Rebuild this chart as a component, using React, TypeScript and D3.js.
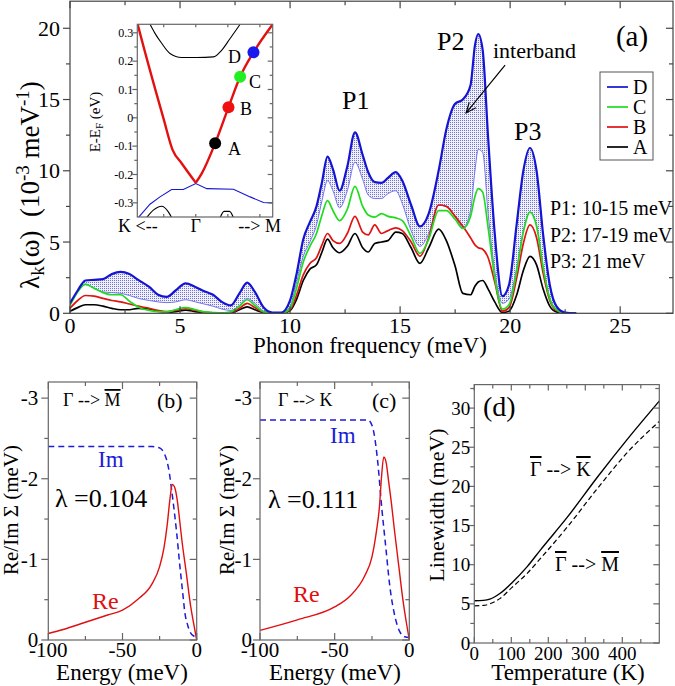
import React from 'react';
import * as d3 from 'd3';

const FONT = '"Liberation Serif", "DejaVu Serif", "Times New Roman", serif';

// (a) coupling spectra, lambda_k(omega) in 1e-3 meV^-1
const freq = [0, 0.35, 0.7, 1.1, 1.5, 1.9, 2.3, 2.7, 3.1, 3.6, 4.0, 4.4, 4.8, 5.25, 5.7, 6.1, 6.5, 6.9, 7.3, 7.7, 8.05, 8.4, 8.8, 9.2, 9.6, 10.0, 10.3, 10.6, 10.9, 11.2, 11.45, 11.7, 11.95, 12.25, 12.6, 12.95, 13.3, 13.55, 13.85, 14.15, 14.45, 14.8, 15.1, 15.5, 15.9, 16.3, 16.75, 17.1, 17.5, 17.85, 18.2, 18.4, 18.55, 18.75, 19.0, 19.3, 19.65, 19.95, 20.3, 20.6, 20.9, 21.2, 21.5, 21.8, 22.1, 22.5, 23];
const lamD = [0.7, 1.6, 2.3, 2.35, 2.4, 2.75, 2.9, 2.75, 2.35, 1.85, 1.3, 1.15, 1.6, 2.1, 1.85, 1.55, 1.3, 0.8, 0.55, 1.4, 2.15, 1.5, 0.4, 0.05, 0.05, 0.9, 2.8, 5.2, 6.4, 7.5, 9.2, 11.0, 10.1, 8.6, 10.3, 12.7, 11.1, 9.9, 9.2, 9.15, 9.5, 9.9, 9.3, 7.6, 6.1, 7.0, 10.0, 12.9, 14.7, 15.0, 16.0, 18.8, 19.6, 18.5, 12.3, 5.6, 1.2, 2.0, 6.3, 10.0, 11.6, 10.0, 5.5, 2.0, 0.5, 0.05, 0];
const lamIntra = [0.65, 1.5, 2.0, 1.75, 1.5, 1.45, 1.4, 1.25, 1.05, 0.9, 0.8, 0.75, 0.8, 0.95, 0.8, 0.65, 0.5, 0.3, 0.2, 0.55, 1.05, 0.7, 0.15, 0.02, 0.02, 0.5, 2.2, 4.0, 5.0, 6.2, 7.9, 9.3, 8.6, 7.4, 8.6, 10.6, 9.4, 8.3, 8.05, 8.05, 8.4, 8.6, 7.7, 5.8, 4.7, 5.6, 7.6, 7.5, 6.8, 6.0, 7.2, 10.0, 11.5, 11.3, 7.0, 3.0, 0.7, 1.0, 3.2, 5.8, 7.1, 6.2, 3.3, 1.1, 0.3, 0.03, 0];
const lamC = [0.55, 1.5, 2.05, 1.75, 1.45, 1.3, 1.3, 0.85, 0.45, 0.2, 0.12, 0.1, 0.25, 0.4, 0.25, 0.1, 0.05, 0.02, 0.1, 0.5, 0.95, 0.55, 0.1, 0.01, 0.01, 0.35, 1.8, 3.6, 4.7, 5.6, 6.9, 7.9, 7.2, 6.5, 7.3, 8.9, 7.5, 6.9, 6.75, 7.0, 6.8, 6.7, 6.5, 5.4, 4.2, 5.2, 7.2, 7.2, 6.6, 5.95, 6.8, 8.2, 8.75, 8.5, 6.0, 2.5, 0.3, 0.6, 3.0, 5.7, 7.1, 6.1, 3.2, 1.0, 0.25, 0.02, 0];
const lamB = [0.35, 0.9, 1.25, 1.2, 1.05, 0.9, 0.8, 0.65, 0.5, 0.35, 0.2, 0.12, 0.2, 0.32, 0.2, 0.08, 0.03, 0.01, 0.05, 0.35, 0.7, 0.4, 0.08, 0.01, 0.01, 0.25, 1.3, 2.7, 3.5, 3.9, 4.8, 5.6, 5.1, 4.9, 5.6, 6.8, 5.7, 5.5, 6.2, 5.6, 5.8, 6.0, 5.8, 5.0, 4.0, 5.3, 7.6, 7.5, 6.8, 6.1, 5.3, 4.8, 4.6, 4.5, 3.9, 2.2, 0.15, 0.4, 2.5, 4.9, 6.2, 5.3, 2.8, 0.9, 0.2, 0.02, 0];
const lamA = [0.15, 0.4, 0.6, 0.6, 0.5, 0.35, 0.25, 0.25, 0.35, 0.3, 0.15, 0.08, 0.12, 0.22, 0.12, 0.04, 0.01, 0, 0.03, 0.25, 0.45, 0.25, 0.05, 0, 0, 0.2, 1.0, 2.3, 3.1, 3.4, 4.3, 5.2, 4.6, 4.25, 4.7, 5.6, 4.6, 4.3, 4.9, 5.0, 5.1, 5.7, 5.6, 4.6, 3.5, 4.6, 5.9, 5.1, 3.3, 1.4, 1.3, 1.9, 2.2, 2.3, 1.7, 0.8, 0.05, 0.15, 1.3, 3.0, 4.0, 3.4, 1.7, 0.5, 0.1, 0.01, 0];
const legendLabels = ['D', 'C', 'B', 'A'];
const legendColors = ['#1414d2', '#1fdc1f', '#e01212', '#000'];
const peakNotes = ['P1: 10-15 meV', 'P2: 17-19 meV', 'P3: 21 meV'];

// inset band structure
const redLeftK = [-0.47, -0.453, -0.253, -0.18, -0.109, 0];
const redLeftE = [0.36, 0.33, 0, -0.114, -0.161, -0.229];
const redRightK = [0, 0.047, 0.151, 0.255, 0.346, 0.45, 0.6];
const redRightE = [-0.229, -0.196, -0.09, 0.037, 0.145, 0.231, 0.33];
const condK = [-0.357, -0.318, -0.266, -0.201, -0.11, 0.008, 0.137, 0.203, 0.268, 0.346];
const condE = [0.33, 0.298, 0.263, 0.227, 0.213, 0.213, 0.215, 0.239, 0.28, 0.33];
const blueK = [-0.448, -0.357, -0.279, -0.188, -0.097, 0, 0.086, 0.294, 0.424, 0.528, 0.6];
const blueE = [-0.352, -0.305, -0.279, -0.253, -0.253, -0.232, -0.25, -0.252, -0.279, -0.299, -0.3];
const lowK1 = [-0.383, -0.331, -0.266, -0.214, -0.188];
const lowE1 = [-0.352, -0.326, -0.312, -0.332, -0.352];
const lowK2 = [0.19, 0.221, 0.263, 0.294];
const lowE2 = [-0.352, -0.33, -0.33, -0.352];
const dotK = [0.151, 0.255, 0.346, 0.45];
const dotE = [-0.09, 0.037, 0.145, 0.231];
const dotLabels = ['A', 'B', 'C', 'D'];
const dotColors = ['#000', '#f01010', '#22ee22', '#1a1af0'];

// (b), (c) self energy
const bImE = [-100, -30, -27, -24.7, -22, -20.2, -18.5, -16.9, -15, -13.5, -11.3, -9.5, -7.9, -6, -4.5, -2, 0];
const bIm = [-2.4, -2.4, -2.39, -2.38, -2.32, -2.23, -2.08, -1.86, -1.58, -1.33, -0.91, -0.6, -0.33, -0.18, -0.1, -0.05, -0.04];
const bReE = [-100, -90, -75, -60, -50, -40, -30, -25, -22, -20, -18, -16.5, -15, -13, -12, -10, -7, -4, -2, 0];
const bRe = [-0.08, -0.13, -0.22, -0.31, -0.37, -0.5, -0.7, -0.91, -1.15, -1.41, -1.75, -1.93, -1.9, -1.72, -1.57, -1.24, -0.83, -0.41, -0.2, 0];
const cImE = [-100, -28, -26.3, -23.6, -21.1, -18.5, -15.8, -13, -9.6, -6.3, -3, 0];
const cIm = [-2.73, -2.73, -2.71, -2.56, -2.2, -1.65, -1.16, -0.66, -0.29, -0.1, -0.04, -0.03];
const cReE = [-100, -75, -50, -40, -30, -25, -22, -20, -18.5, -17.1, -15.5, -14, -12, -10, -7, -4, -2, 0];
const cRe = [-0.12, -0.25, -0.41, -0.54, -0.79, -1.03, -1.35, -1.65, -2.05, -2.27, -2.2, -1.99, -1.7, -1.37, -0.91, -0.46, -0.22, 0];

// (d) linewidth vs temperature
const temps = [0, 25, 42, 70, 102, 143, 179, 252, 333, 415, 500];
const lwK = [5.4, 5.45, 5.6, 6.35, 7.7, 9.75, 11.9, 16.1, 21.2, 26.1, 30.9];
const lwM = [4.75, 4.8, 5.0, 5.7, 7.1, 8.9, 10.8, 14.85, 19.75, 24.4, 28.3];

const range = (a: number, b: number, s: number) => d3.range(a, b + s / 2, s);

function Frame({ x, y, xMajor, xMinor, yMajor, yMinor, fs, stroke = '#555', big = 7, small = 4, xLabelY, yLabelGap = 3 }: any) {
  const [x0, x1] = x.range();
  const [yb, yt] = y.range();
  return (
    <g>
      <g stroke={stroke} strokeWidth={1.2}>
        {xMajor.concat(xMinor).map((v: number, i: number) => {
          const L = i < xMajor.length ? big : small;
          return (
            <g key={'x' + i}>
              <line x1={x(v)} x2={x(v)} y1={yb} y2={yb - L} />
              <line x1={x(v)} x2={x(v)} y1={yt} y2={yt + L} />
            </g>
          );
        })}
        {yMajor.concat(yMinor).map((v: number, i: number) => {
          const L = i < yMajor.length ? big : small;
          return (
            <g key={'y' + i}>
              <line x1={x0} x2={x0 - L} y1={y(v)} y2={y(v)} />
              <line x1={x1} x2={x1 - L} y1={y(v)} y2={y(v)} />
            </g>
          );
        })}
        <rect x={x0} y={yt} width={x1 - x0} height={yb - yt} fill="none" />
      </g>
      {xMajor.map((v: number) => (
        <text key={'xl' + v} x={x(v)} y={xLabelY} textAnchor="middle" fontSize={fs}>{String(v)}</text>
      ))}
      {yMajor.map((v: number) => (
        <text key={'yl' + v} x={x0 - big - yLabelGap} y={y(v)} dy="0.35em" textAnchor="end" fontSize={fs}>{String(v)}</text>
      ))}
    </g>
  );
}

function linePath(xs: number[], ys: number[], sx: any, sy: any, curve: any = d3.curveMonotoneX) {
  const pts = xs.map((v, i) => [v, ys[i]] as [number, number]);
  return d3.line().x(d => sx(d[0])).y(d => sy(d[1])).curve(curve)(pts) || '';
}

const over = { textDecoration: 'overline' };

export default function App() {
  // panel (a)
  const xa = d3.scaleLinear().domain([0, 27.4]).range([70, 673]);
  const ya = d3.scaleLinear().domain([0, 21.9]).range([313.3, 1.2]);
  const idx = d3.range(freq.length);
  const hatch = d3.area<number>()
    .x(i => xa(freq[i]))
    .y0(i => ya(lamIntra[i]))
    .y1(i => ya(lamD[i]))
    .curve(d3.curveMonotoneX)(idx) || '';
  const series = [lamD, lamC, lamB, lamA];

  // inset
  const xi = d3.scaleLinear().domain([-0.456, 0.6]).range([137.3, 272.7]);
  const yi = d3.scaleLinear().domain([-0.35, 0.33]).range([217, 24.3]);

  // (b), (c)
  const yb = d3.scaleLinear().domain([0, -3.2]).range([640, 382]);
  const xb = d3.scaleLinear().domain([-100, 0]).range([48.3, 196.7]);
  const xc = d3.scaleLinear().domain([-100, 0]).range([260, 409.3]);

  // (d)
  const xd = d3.scaleLinear().domain([0, 500]).range([474.3, 659.3]);
  const yd = d3.scaleLinear().domain([0, 33]).range([643, 384.6]);

  const arrowFrom = [xa(19.77), ya(17.42)];
  const arrowTo = [xa(18.0), ya(14.06)];
  const ang = Math.atan2(arrowTo[1] - arrowFrom[1], arrowTo[0] - arrowFrom[0]);
  const head = (s: number) => [arrowTo[0] - 11 * Math.cos(ang + s * 0.4), arrowTo[1] - 11 * Math.sin(ang + s * 0.4)];
  const h1 = head(1), h2 = head(-1);

  return (
    <svg width={675} height={686} style={{ display: 'block', position: 'absolute', left: 0, top: 0, fontFamily: FONT }}>
      <defs>
        <pattern id="dots" width="2" height="2" patternUnits="userSpaceOnUse">
          <rect width="2" height="2" fill="#f0f0fb" />
          <rect width="1" height="1" fill="#7272d4" />
        </pattern>
        <clipPath id="clipA"><rect x={70} y={1.2} width={603} height={312.1} /></clipPath>
        <clipPath id="clipI"><rect x={137.3} y={24.3} width={135.4} height={192.7} /></clipPath>
      </defs>
      <rect width={675} height={686} fill="#fff" />

      {/* (a) */}
      <g clipPath="url(#clipA)">
        <path d={hatch} fill="url(#dots)" stroke="none" />
        <path d={linePath(freq, lamIntra, xa, ya)} fill="none" stroke="#7474e8" strokeWidth={1} />
        {series.slice().reverse().map((s, i) => (
          <path key={i} d={linePath(freq, s, xa, ya)} fill="none" stroke={legendColors[3 - i]} strokeWidth={i === 3 ? 2.2 : 1.7} />
        ))}
      </g>
      <Frame x={xa} y={ya} xMajor={range(0, 25, 5)} xMinor={[2.5, 7.5, 12.5, 17.5, 22.5]} yMajor={range(0, 20, 5)} yMinor={[2.5, 7.5, 12.5, 17.5]} fs={22} xLabelY={333} stroke="#444" />
      <text x={370} y={353} textAnchor="middle" fontSize={23}>Phonon frequency (meV)</text>
      <text transform="translate(39,185) rotate(-90)" textAnchor="middle" fontSize={27}>
        λ<tspan dy={5} fontSize={19}>k</tspan><tspan dy={-5}>(ω)</tspan><tspan>{'\u00a0\u00a0(10'}</tspan><tspan dy={-10} fontSize={19}>-3</tspan><tspan dy={10}>{'\u00a0meV'}</tspan><tspan dy={-10} fontSize={19}>-1</tspan><tspan dy={10}>)</tspan>
      </text>
      <text x={632} y={46} textAnchor="middle" fontSize={29}>(a)</text>
      <text x={493} y={58} fontSize={22}>interband</text>
      <g stroke="#000" strokeWidth={1.2} fill="none">
        <line x1={arrowFrom[0]} y1={arrowFrom[1]} x2={arrowTo[0]} y2={arrowTo[1]} />
        <polyline points={`${h1[0]},${h1[1]} ${arrowTo[0]},${arrowTo[1]} ${h2[0]},${h2[1]}`} />
      </g>
      <text x={342} y={109} fontSize={26}>P1</text>
      <text x={437} y={50} fontSize={26}>P2</text>
      <text x={514} y={140} fontSize={26}>P3</text>
      {peakNotes.map((t, i) => (
        <text key={t} x={550} y={215 + i * 26.5} fontSize={20}>{t}</text>
      ))}
      <rect x={600} y={72} width={53} height={88} fill="#fff" stroke="#555" strokeWidth={1} />
      {legendLabels.map((l, i) => (
        <g key={l}>
          <line x1={607} x2={628} y1={87 + i * 20} y2={87 + i * 20} stroke={legendColors[i]} strokeWidth={1.7} />
          <text x={633} y={87 + i * 20} dy="0.34em" fontSize={20}>{l}</text>
        </g>
      ))}

      {/* inset */}
      <rect x={137.3} y={24.3} width={135.4} height={192.7} fill="#fff" />
      <g clipPath="url(#clipI)" fill="none">
        <path d={linePath(condK, condE, xi, yi)} stroke="#000" strokeWidth={1.1} />
        <path d={linePath(lowK1, lowE1, xi, yi)} stroke="#000" strokeWidth={1.1} />
        <path d={linePath(lowK2, lowE2, xi, yi)} stroke="#000" strokeWidth={1.1} />
        <path d={linePath(blueK, blueE, xi, yi, d3.curveLinear)} stroke="#1414d2" strokeWidth={1.1} />
        <path d={linePath(redLeftK, redLeftE, xi, yi)} stroke="#e41010" strokeWidth={2.4} />
        <path d={linePath(redRightK, redRightE, xi, yi)} stroke="#e41010" strokeWidth={2.4} />
      </g>
      {dotK.map((k, i) => (
        <circle key={i} cx={xi(k)} cy={yi(dotE[i])} r={6} fill={dotColors[i]} />
      ))}
      {dotLabels.map((l, i) => (
        <text key={l} x={[228, 240, 249, 228][i]} y={[155, 115, 88, 63][i]} fontSize={18}>{l}</text>
      ))}
      <Frame x={xi} y={yi} xMajor={[]} xMinor={[-0.25, 0, 0.25, 0.5]} yMajor={[-0.3, -0.2, -0.1, 0, 0.1, 0.2, 0.3]} yMinor={[-0.25, -0.15, -0.05, 0.05, 0.15, 0.25]} fs={12} big={5} small={3} xLabelY={0} stroke="#666" yLabelGap={-1} />
      <text x={118} y={232} fontSize={18}>{'K <--'}</text>
      <text x={xi(0)} y={232} textAnchor="middle" fontSize={18}>Γ</text>
      <text x={281} y={232} textAnchor="end" fontSize={18}>{'--> M'}</text>
      <text transform="translate(100,122) rotate(-90)" textAnchor="middle" fontSize={15}>
        E-E<tspan dy={3} fontSize={11}>F</tspan><tspan dy={-3}>{'\u00a0(eV)'}</tspan>
      </text>

      {/* (b) */}
      <path d={linePath(bImE, bIm, xb, yb)} fill="none" stroke="#1c1cd8" strokeWidth={1.5} strokeDasharray="6,4" />
      <path d={linePath(bReE, bRe, xb, yb)} fill="none" stroke="#e01010" strokeWidth={1.4} />
      <Frame x={xb} y={yb} xMajor={[-100, -50, 0]} xMinor={[-75, -25]} yMajor={[0, -1, -2, -3]} yMinor={[-0.5, -1.5, -2.5]} fs={21} xLabelY={657} stroke="#666" />
      <text x={63} y={406} fontSize={18}>{'Γ --> '}<tspan style={over}>M</tspan></text>
      <text x={157} y={408} fontSize={22}>(b)</text>
      <text x={98} y={467} fontSize={23} fill="#1c1cd8">Im</text>
      <text x={55} y={507} fontSize={26}>λ =0.104</text>
      <text x={92} y={609} fontSize={24} fill="#e01010">Re</text>
      <text transform="translate(18,510) rotate(-90)" textAnchor="middle" fontSize={21}>Re/Im Σ (meV)</text>
      <text x={122} y={680} textAnchor="middle" fontSize={23}>Energy (meV)</text>

      {/* (c) */}
      <path d={linePath(cImE, cIm, xc, yb)} fill="none" stroke="#1c1cd8" strokeWidth={1.5} strokeDasharray="6,4" />
      <path d={linePath(cReE, cRe, xc, yb)} fill="none" stroke="#e01010" strokeWidth={1.4} />
      <Frame x={xc} y={yb} xMajor={[-100, -50, 0]} xMinor={[-75, -25]} yMajor={[0, -1, -2, -3]} yMinor={[-0.5, -1.5, -2.5]} fs={21} xLabelY={657} stroke="#666" yLabelGap={1} />
      <text x={278} y={406} fontSize={18}>{'Γ --> K'}</text>
      <text x={372} y={408} fontSize={22}>(c)</text>
      <text x={330} y={443} fontSize={23} fill="#1c1cd8">Im</text>
      <text x={268} y={508} fontSize={26}>λ =0.111</text>
      <text x={293} y={602} fontSize={24} fill="#e01010">Re</text>
      <text transform="translate(234,510) rotate(-90)" textAnchor="middle" fontSize={21}>Re/Im Σ (meV)</text>
      <text x={335} y={680} textAnchor="middle" fontSize={23}>Energy (meV)</text>

      {/* (d) */}
      <path d={linePath(temps, lwK, xd, yd)} fill="none" stroke="#000" strokeWidth={1.4} />
      <path d={linePath(temps, lwM, xd, yd)} fill="none" stroke="#000" strokeWidth={1.2} strokeDasharray="5,3" />
      <Frame x={xd} y={yd} xMajor={[0, 100, 200, 300, 400]} xMinor={[50, 150, 250, 350, 450]} yMajor={range(0, 30, 5)} yMinor={[2.5, 7.5, 12.5, 17.5, 22.5, 27.5, 32.5]} fs={19} xLabelY={660} stroke="#666" big={6} yLabelGap={-2} />
      <text x={483} y={416} fontSize={28}>(d)</text>
      <text x={530} y={476} fontSize={20}><tspan style={over}>Γ</tspan>{' --> '}<tspan style={over}>K</tspan></text>
      <text x={555} y={571} fontSize={20}><tspan style={over}>Γ</tspan>{' --> '}<tspan style={over}>M</tspan></text>
      <text transform="translate(444,505) rotate(-90)" textAnchor="middle" fontSize={22}>Linewidth (meV)</text>
      <text x={568} y={680} textAnchor="middle" fontSize={23}>Temperature (K)</text>
    </svg>
  );
}
